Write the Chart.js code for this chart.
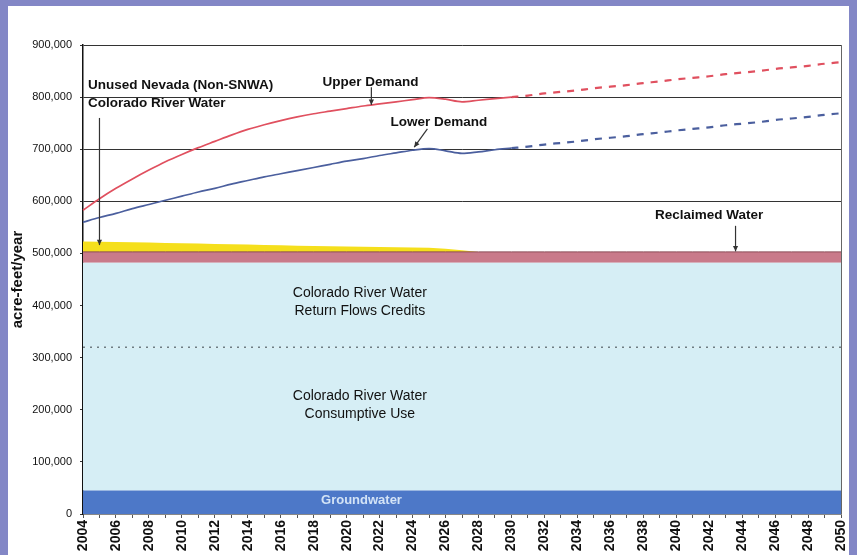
<!DOCTYPE html>
<html><head><meta charset="utf-8">
<script src="https://cdn.jsdelivr.net/npm/chart.js@4.4.1/dist/chart.umd.min.js"></script>
<style>
html,body{margin:0;padding:0;}
body{width:857px;height:555px;background:#8387c6;overflow:hidden;position:relative;}
#panel{position:absolute;left:8px;top:6px;width:841px;height:549px;background:#fff;overflow:hidden;}
canvas{display:block;}
</style></head><body>
<div id="panel"><canvas id="c"></canvas></div>
<script>
// ---- DATA ----
const years = ["2004","2005","2006","2007","2008","2009","2010","2011","2012","2013","2014","2015","2016","2017","2018","2019","2020","2021","2022","2023","2024","2025","2026","2027","2028","2029","2030","2031","2032","2033","2034","2035","2036","2037","2038","2039","2040","2041","2042","2043","2044","2045","2046","2047","2048","2049","2050"];

const groundwater = [45000,45000,45000,45000,45000,45000,45000,45000,45000,45000,45000,45000,45000,45000,45000,45000,45000,45000,45000,45000,45000,45000,45000,45000,45000,45000,45000,45000,45000,45000,45000,45000,45000,45000,45000,45000,45000,45000,45000,45000,45000,45000,45000,45000,45000,45000,45000];
const consumptiveUse = [275000,275000,275000,275000,275000,275000,275000,275000,275000,275000,275000,275000,275000,275000,275000,275000,275000,275000,275000,275000,275000,275000,275000,275000,275000,275000,275000,275000,275000,275000,275000,275000,275000,275000,275000,275000,275000,275000,275000,275000,275000,275000,275000,275000,275000,275000,275000];
const returnFlowCredits = [162000,162000,162000,162000,162000,162000,162000,162000,162000,162000,162000,162000,162000,162000,162000,162000,162000,162000,162000,162000,162000,162000,162000,162000,162000,162000,162000,162000,162000,162000,162000,162000,162000,162000,162000,162000,162000,162000,162000,162000,162000,162000,162000,162000,162000,162000,162000];
const reclaimedWater = [21000,21000,21000,21000,21000,21000,21000,21000,21000,21000,21000,21000,21000,21000,21000,21000,21000,21000,21000,21000,21000,21000,21000,21000,21000,21000,21000,21000,21000,21000,21000,21000,21000,21000,21000,21000,21000,21000,21000,21000,21000,21000,21000,21000,21000,21000,21000];
const unusedNevada = [20000,19500,19000,18500,18000,17000,16500,16000,15000,14500,14000,13000,12500,12000,11500,11000,10500,10000,9500,9000,8500,8000,6000,3000,0,0,0,0,0,0,0,0,0,0,0,0,0,0,0,0,0,0,0,0,0,0,0];
const upperDemand = [583000,605000,625000,643000,660000,676000,690000,703000,715000,727000,738000,747000,755000,762000,768000,773000,778000,783000,787000,791000,795000,799000,796000,791000,794000,797000,800000,803000,807000,810000,813000,817000,820000,823000,827000,830000,834000,837000,840000,844000,847000,850000,854000,857000,860000,864000,867000];
const lowerDemand = [560000,569000,577000,586000,594000,602000,610000,618000,625000,633000,640000,647000,653000,659000,665000,671000,677000,682000,688000,693000,698000,701000,697000,692000,695000,699000,702000,705000,709000,712000,715000,719000,722000,725000,729000,732000,736000,739000,742000,746000,749000,752000,756000,759000,762000,766000,769000];
const yTickValues = [0,100000,200000,300000,400000,500000,600000,700000,800000,900000];
const projectionStartIndex = 26; // 2030

// ---- CHART ----
const FONT = '"Liberation Sans", Arial, sans-serif';
const dashAfter = ctx => ctx.p0DataIndex >= projectionStartIndex ? [7, 7] : undefined;
const widthAfter = ctx => ctx.p0DataIndex >= projectionStartIndex ? 2.2 : 1.7;

function arrow(ctx, x1, y1, x2, y2) {
  ctx.beginPath(); ctx.moveTo(x1, y1); ctx.lineTo(x2, y2); ctx.stroke();
  const a = Math.atan2(y2 - y1, x2 - x1), s = 6;
  ctx.beginPath();
  ctx.moveTo(x2, y2);
  ctx.lineTo(x2 - s * Math.cos(a - 0.45), y2 - s * Math.sin(a - 0.45));
  ctx.lineTo(x2 - s * Math.cos(a + 0.45), y2 - s * Math.sin(a + 0.45));
  ctx.closePath(); ctx.fill();
}

const notes = {
  id: 'notes',
  afterDatasetsDraw(chart) {
    const { ctx, chartArea, scales: { x, y } } = chart;
    const X = yr => x.getPixelForValue(yr - 2004);
    const Y = v => y.getPixelForValue(v);
    ctx.save();
    ctx.strokeStyle = '#666'; ctx.lineWidth = 1;
    ctx.beginPath(); ctx.moveTo(chartArea.right + 0.5, chartArea.top); ctx.lineTo(chartArea.right + 0.5, chartArea.bottom); ctx.stroke();

    ctx.fillStyle = '#111'; ctx.textBaseline = 'middle';
    ctx.font = 'bold 13.5px ' + FONT;
    ctx.textAlign = 'left';
    ctx.fillText('Unused Nevada (Non-SNWA)', X(2004.3), Y(823000));
    ctx.fillText('Colorado River Water', X(2004.3), Y(789000));
    ctx.textAlign = 'center';
    ctx.fillText('Upper Demand', X(2021.45), Y(829000));
    ctx.fillText('Lower Demand', X(2025.6), Y(752000));
    ctx.fillText('Reclaimed Water', X(2042), Y(574000));
    ctx.font = '14px ' + FONT;
    ctx.fillText('Colorado River Water', X(2020.8), Y(424000));
    ctx.fillText('Return Flows Credits', X(2020.8), Y(390000));
    ctx.fillText('Colorado River Water', X(2020.8), Y(226000));
    ctx.fillText('Consumptive Use', X(2020.8), Y(192000));
    ctx.font = 'bold 13px ' + FONT;
    ctx.fillStyle = '#d3e3f6';
    ctx.fillText('Groundwater', X(2020.9), Y(27000));

    ctx.strokeStyle = '#333'; ctx.fillStyle = '#333'; ctx.lineWidth = 1.2;
    arrow(ctx, X(2005), Y(760000), X(2005), Y(516000));
    arrow(ctx, X(2021.5), Y(819000), X(2021.5), Y(785000));
    arrow(ctx, X(2024.9), Y(739000), X(2024.1), Y(704000));
    arrow(ctx, X(2043.6), Y(553000), X(2043.6), Y(504000));
    ctx.restore();
  }
};

new Chart(document.getElementById('c'), {
  type: 'line',
  data: {
    labels: years,
    datasets: [
      { label: 'Upper Demand', data: upperDemand, stack: 'upper', borderColor: '#e0505f', fill: false,
        segment: { borderDash: dashAfter, borderWidth: widthAfter }, borderWidth: 1.7, cubicInterpolationMode: 'monotone' },
      { label: 'Lower Demand', data: lowerDemand, stack: 'lower', borderColor: '#4b5f9e', fill: false,
        segment: { borderDash: dashAfter, borderWidth: widthAfter }, borderWidth: 1.7, cubicInterpolationMode: 'monotone' },
      { label: 'Groundwater', data: groundwater, stack: 'supply', backgroundColor: '#4d78c8', borderWidth: 0, fill: 'origin' },
      { label: 'Colorado River Water Consumptive Use', data: consumptiveUse, stack: 'supply', backgroundColor: '#d6eef5',
        borderColor: '#6f7d83', borderWidth: 1.3, borderDash: [2, 5], fill: '-1' },
      { label: 'Colorado River Water Return Flows Credits', data: returnFlowCredits, stack: 'supply', backgroundColor: '#d6eef5', borderWidth: 0, fill: '-1' },
      { label: 'Reclaimed Water', data: reclaimedWater, stack: 'supply', backgroundColor: '#c97a8a', borderColor: '#8a4a55', borderWidth: 1, fill: '-1' },
      { label: 'Unused Nevada (Non-SNWA) Colorado River Water', data: unusedNevada, stack: 'supply', backgroundColor: '#f5df1c', borderWidth: 0, fill: '-1' }
    ]
  },
  options: {
    responsive: true, maintainAspectRatio: false, animation: false,
    layout: { padding: { top: 39, right: 8, left: 0, bottom: 0 } },
    elements: { point: { radius: 0 }, line: { tension: 0 } },
    plugins: { legend: { display: false }, tooltip: { enabled: false } },
    scales: {
      x: {
        type: 'category',
        grid: { drawOnChartArea: false, drawTicks: true, tickLength: 4, color: '#555' },
        border: { display: true, color: '#888' },
        ticks: {
          autoSkip: false, minRotation: 90, maxRotation: 90, padding: 2,
          color: '#111', font: { family: FONT, size: 14, weight: 'bold' },
          callback: (v, i) => (i % 2 === 0 ? years[i] : '')
        },
        afterFit: s => { s.height = 41; s.paddingRight = 0; s.paddingLeft = 0; }
      },
      y: {
        stacked: true, min: 0, max: 900000,
        afterBuildTicks: s => { s.ticks = yTickValues.map(v => ({ value: v })); },
        grid: { color: '#333', lineWidth: 1, tickLength: 3 },
        border: { display: true, color: '#111', width: 1.5 },
        ticks: {
          padding: 8, color: '#111', font: { family: FONT, size: 11 },
          callback: v => v.toLocaleString('en-US')
        },
        title: { display: true, text: 'acre-feet/year', color: '#111', padding: { top: 1, bottom: 0 },
          font: { family: FONT, size: 15, weight: 'bold' } },
        afterFit: s => { s.width = 75; }
      }
    }
  },
  plugins: [notes]
});
</script>
</body></html>
